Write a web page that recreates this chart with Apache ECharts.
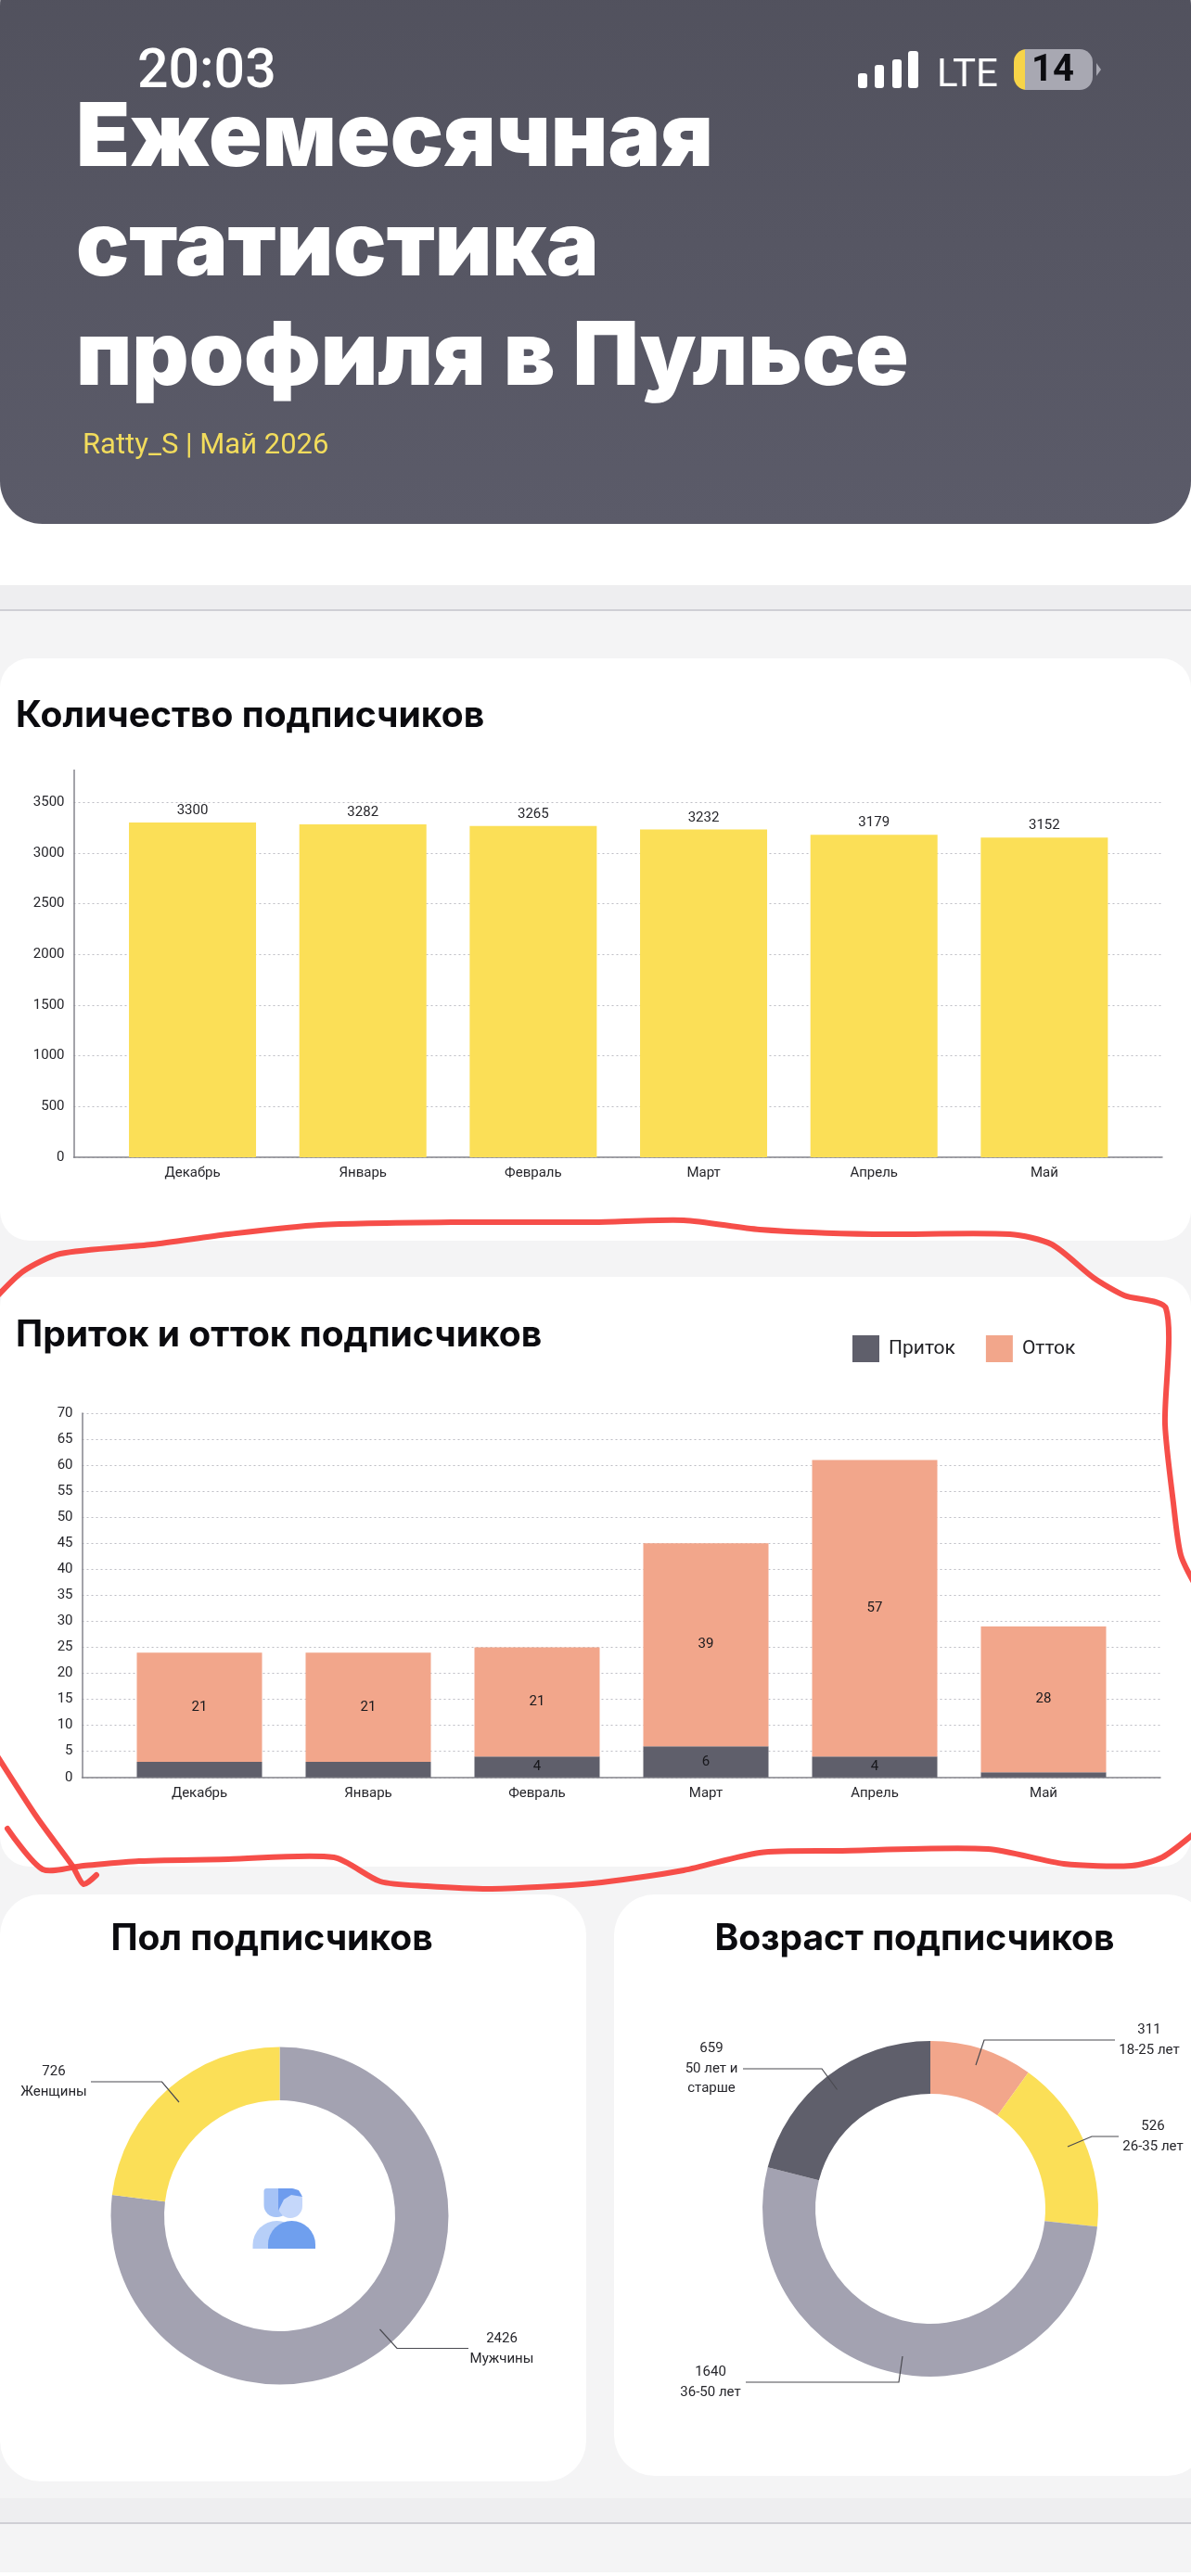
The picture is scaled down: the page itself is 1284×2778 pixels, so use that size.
<!DOCTYPE html>
<html><head><meta charset="utf-8">
<style>html,body{margin:0;padding:0;background:#f4f4f5}#c{width:1284px;height:2778px}</style>
<script src="https://cdn.jsdelivr.net/npm/echarts@6/dist/echarts.min.js"></script>
</head><body><div id="c"></div>
<script>
const months = ['Декабрь','Январь','Февраль','Март','Апрель','Май'];
const subscribers = [3300,3282,3265,3232,3179,3152];
const inflow = [3,3,4,6,4,1];
const outflow = [21,21,21,39,57,28];
const genderNames = ['Мужчины','Женщины'];
const genderValues = [2426,726];
const ageNames = ['18-25 лет','26-35 лет','36-50 лет','50 лет и\nстарше'];
const ageValues = [311,526,1640,659];

const YELLOW='#fbdf57', DARK='#5f5f6b', SALMON='#f2a68b', GREY='#a3a2b1';
const FONT='Roboto', TICK='#26262b';

const chart = echarts.init(document.getElementById('c'), null, {width:1284,height:2778});

const rect=(x,y,w,h,fill,r=0,z=-5)=>({type:'rect',silent:true,z,shape:{x,y,width:w,height:h,r},style:{fill}});
const text=(x,y,t,font,fill,align='left',z=5)=>({type:'text',silent:true,z,style:{x,y,text:t,font,fill,align,verticalAlign:'middle'}});
const line=(pts)=>({type:'polyline',silent:true,z:100,shape:{points:pts,smooth:0.25},style:{stroke:'#f5443f',lineWidth:6,lineJoin:'round',lineCap:'round',fill:null,opacity:0.95}});
const leader=(pts)=>({type:'polyline',silent:true,z:20,shape:{points:pts},style:{stroke:'#4a4a50',lineWidth:1.2,fill:null}});

// Leader-line and label placement for each slice, in the order of its series' data.
const genderLeaders=[
  {x:541,y:2533,pts:[[409.5,2512],[428,2532.5],[505,2532.5]]},
  {x:58,y:2245,pts:[[193,2267],[174.5,2245],[98,2245]]},
];
const ageLeaders=[
  {x:1239,y:2200,pts:[[1052,2227],[1061,2200],[1202,2200]]},
  {x:1243,y:2304,pts:[[1151,2315],[1177,2304],[1206,2304]]},
  {x:766,y:2569,pts:[[973,2541],[969,2569],[804,2569]]},
  {x:767,y:2231,pts:[[902.5,2253.5],[886,2231],[801,2231]]},
];

const TITLE='700 39px Inter';
const HEAD='900 95px Inter';
const graphics=[
  rect(0,0,1284,631,'#ffffff',0,-9),
  {type:'rect',silent:true,z:-8,shape:{x:0,y:-40,width:1284,height:605,r:46},
   style:{fill:{type:'linear',x:0,y:0,x2:0,y2:1,colorStops:[{offset:0,color:'#51515d'},{offset:1,color:'#5b5b69'}]}}},
  rect(0,631,1284,27,'#eeeef0',0,-8), rect(0,657,1284,2,'#cfcfd5',0,-7),
  rect(0,2694,1284,27,'#eeeef0',0,-8), rect(0,2720,1284,2,'#cfcfd5',0,-7),
  rect(0,2774,1284,4,'#ffffff',0,-8),
  rect(0,710,1284,628,'#ffffff',32), rect(0,1377,1284,636,'#ffffff',32),
  rect(0,2043,632,633,'#ffffff',44), rect(662,2043,640,627,'#ffffff',44),

  text(148,79,'20:03','500 59px Roboto','#ffffff'),
  rect(925,79,10,16,'#fff',3,1), rect(943,70,10,25,'#fff',3,1), rect(962,64,10,31,'#fff',3,1), rect(979,55,11,40,'#fff',3,1),
  text(1010,82,'LTE','400 42px Roboto','#ffffff'),
  rect(1093,53,40,44,'#f7d448',[14,0,0,14],1), rect(1105,53,73,44,'#a8a8b2',[0,14,14,0],2),
  {type:'polygon',silent:true,z:2,shape:{points:[[1182,68],[1187,75],[1182,82]]},style:{fill:'#a8a8b2'}},
  text(1135,77,'14','700 40px Roboto','#0c0c10','center'),

  text(82,150,'Ежемесячная',HEAD,'#ffffff'),
  text(82,268,'статистика',HEAD,'#ffffff'),
  text(82,386,'профиля в Пульсе',HEAD,'#ffffff'),
  text(89,481,'Ratty_S | Май 2026','400 31px Roboto','#f2dc5c'),

  text(17,772,'Количество подписчиков',TITLE,'#0b0b0f'),
  text(17,1440,'Приток и отток подписчиков',TITLE,'#0b0b0f'),
  text(293,2091,'Пол подписчиков',TITLE,'#0b0b0f','center'),
  text(986,2091,'Возраст подписчиков',TITLE,'#0b0b0f','center'),

  rect(284.5,2360,27,31,'#a6c3f6',[3,3,13,13],3),
  rect(300,2360,26,32,'#c5d7fa',[3,12,13,13],4),
  {type:'polygon',silent:true,z:5,shape:{points:[[300,2360],[315,2360],[322,2362],[326,2369],[314,2367],[306,2372],[300,2384]]},style:{fill:'#6e9cee'}},
  rect(272.5,2395,52,30,'#b7cff8',[27,27,0,0],3),
  rect(289,2395,51,30,'#6f9fee',[26,26,0,0],4),

  ...genderLeaders.concat(ageLeaders).map(l=>leader(l.pts)),

  line([[-4,1399],[25,1371],[65,1352],[164,1342],[246,1331],[344,1321],[491,1318],[640,1318],[737,1316],[819,1326],[942,1331],[1089,1331],[1134,1342],[1179,1378],[1212,1397],[1257,1411],[1256,1536],[1265,1621],[1273,1677],[1290,1712]]),
  line([[1290,1975],[1253,2003],[1220,2012],[1147,2010],[1065,1994],[901,1996],[819,1998],[737,2017],[639,2031],[530,2037],[460,2034],[410,2029],[360,2003],[246,2005],[150,2007],[90,2012],[46,2016],[8,1972]]),
  line([[-4,1892],[40,1960],[78,2012],[90,2032],[104,2022]]),
];

// Grid frames: the axis line and gridlines run wider than the band of bars.
const valueAxisStyle=(gridIndex,max,interval,showMax)=>({type:'value',gridIndex,min:0,max,interval,
  axisLine:{show:true,lineStyle:{color:'#85858c',width:1.5}},axisTick:{show:false},
  axisLabel:{color:TICK,fontFamily:FONT,fontSize:15,margin:10,showMaxLabel:showMax,formatter:v=>String(v)},
  splitLine:{show:true,showMaxLine:showMax,lineStyle:{color:'#bdbdc4',type:[2,3],width:1}}});
const frameX=(gridIndex)=>({type:'category',gridIndex,data:months,axisTick:{show:false},axisLabel:{show:false},
  axisLine:{show:true,lineStyle:{color:'#85858c',width:1.5}}});
const bandX=(gridIndex,margin)=>({type:'category',gridIndex,data:months,axisTick:{show:false},axisLine:{show:false},
  axisLabel:{color:TICK,fontFamily:FONT,fontSize:15,margin}});
const hiddenY=(gridIndex,max)=>({type:'value',gridIndex,min:0,max,show:false,splitLine:{show:false}});

const pieSeries=(names,values,colors,center,radius,leaders)=>({type:'pie',center,radius,startAngle:90,clockwise:true,
  silent:true,avoidLabelOverlap:false,
  data:names.map((name,i)=>({name,value:values[i],itemStyle:{color:colors[i]}})),
  label:{show:true,position:'outside',formatter:'{c}\n{b}',color:TICK,fontFamily:FONT,fontSize:15,lineHeight:21.5,align:'center'},
  labelLine:{show:false},
  labelLayout:(p)=>{const l=leaders[p.dataIndex];return {x:l.x,y:l.y,align:'center',verticalAlign:'middle'};}
});

chart.setOption({
  animation:false,
  backgroundColor:'#f4f4f5',
  graphic:{elements:graphics},
  legend:{show:true,left:919,top:1440,padding:0,itemWidth:29,itemHeight:29,itemGap:33,selectedMode:false,icon:'rect',
    data:['Приток','Отток'],textStyle:{color:'#222226',fontFamily:FONT,fontSize:21,padding:[0,0,0,5]}},
  grid:[
    {left:79.5,top:830.6,width:1173.5,height:417.4},
    {left:115.7,top:830.6,width:1102,height:417.4},
    {left:88.5,top:1524,width:1162.5,height:392.8},
    {left:124,top:1524,width:1092,height:392.8},
  ],
  xAxis:[frameX(0),bandX(1,10),frameX(2),bandX(3,10)],
  yAxis:[valueAxisStyle(0,3815,500,false),hiddenY(1,3815),valueAxisStyle(2,70,5,true),hiddenY(3,70)],
  series:[
    {type:'bar',name:'Подписчики',xAxisIndex:1,yAxisIndex:1,data:subscribers,barWidth:137,silent:true,
     itemStyle:{color:YELLOW},label:{show:true,position:'top',distance:5,color:TICK,fontFamily:FONT,fontSize:15}},
    {type:'bar',name:'Приток',stack:'flow',xAxisIndex:3,yAxisIndex:3,data:inflow,barWidth:135,silent:true,
     itemStyle:{color:DARK},label:{show:true,position:'inside',color:'#18181c',fontFamily:FONT,fontSize:15,
       formatter:p=>p.value>=4?p.value:''}},
    {type:'bar',name:'Отток',stack:'flow',xAxisIndex:3,yAxisIndex:3,data:outflow,barWidth:135,silent:true,
     itemStyle:{color:SALMON},label:{show:true,position:'inside',color:'#18181c',fontFamily:FONT,fontSize:15}},
    pieSeries(genderNames,genderValues,[GREY,YELLOW],[301.5,2389.5],[124.5,182],genderLeaders),
    pieSeries(ageNames,ageValues,[SALMON,YELLOW,GREY,DARK],[1003,2382],[124,181],ageLeaders),
  ]
});
</script></body></html>
